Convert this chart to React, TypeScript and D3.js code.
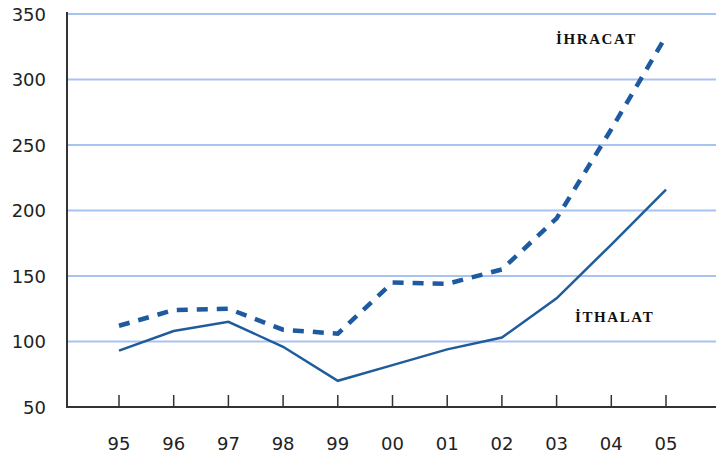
import React from "react";
import * as d3 from "d3";

const WIDTH = 716;
const HEIGHT = 459;

const years = ["95", "96", "97", "98", "99", "00", "01", "02", "03", "04", "05"];
const ihracat = [112, 124, 125, 109, 106, 145, 144, 155, 194, 262, 333];
const ithalat = [93, 108, 115, 96, 70, 82, 94, 103, 133, 174, 216];
const yTicks = [50, 100, 150, 200, 250, 300, 350];

const AXIS_LEFT = 67;
const AXIS_BOTTOM = 407;
const TOP = 14;

export default function App() {
    const x = d3.scalePoint<string>().domain(years).range([119, 666]);
    const y = d3.scaleLinear().domain([50, 350]).range([AXIS_BOTTOM, TOP]);

    const line = d3.line<number>()
        .x((_, i) => x(years[i]) as number)
        .y(d => y(d));

    return (
        <svg width={WIDTH} height={HEIGHT} style={{position: "absolute", left: 0, top: 0, background: "#fff"}}>
            {/* gridlines */}
            {yTicks.filter(t => t > 50).map(t =>
                <line key={t} x1={AXIS_LEFT} x2={WIDTH} y1={y(t)} y2={y(t)} stroke="#a8c2f2" strokeWidth={2}/>
            )}
            {/* y labels */}
            {yTicks.map(t =>
                <text key={t} x={46} y={y(t) + 6.5} textAnchor="end" fontFamily="DejaVu Sans" fontSize={18}
                      fill="#222">{t}</text>
            )}
            {/* x ticks & labels */}
            {years.map(yr =>
                <g key={yr}>
                    <line x1={x(yr)} x2={x(yr)} y1={AXIS_BOTTOM - 12} y2={AXIS_BOTTOM} stroke="#333" strokeWidth={1.5}/>
                    <text x={x(yr)} y={450} textAnchor="middle" fontFamily="DejaVu Sans" fontSize={18}
                          fill="#222">{yr}</text>
                </g>
            )}
            {/* axes */}
            <line x1={AXIS_LEFT} x2={AXIS_LEFT} y1={TOP - 2} y2={AXIS_BOTTOM + 1} stroke="#333" strokeWidth={2}/>
            <line x1={AXIS_LEFT} x2={WIDTH} y1={AXIS_BOTTOM} y2={AXIS_BOTTOM} stroke="#333" strokeWidth={2}/>

            <path d={line(ihracat) || ""} fill="none" stroke="#1d5aa0" strokeWidth={4.5} strokeDasharray="11 9"/>
            <path d={line(ithalat) || ""} fill="none" stroke="#1f5c9c" strokeWidth={2.5}/>

            <text x={556} y={44} fontFamily="Liberation Serif" fontWeight="bold" fontSize={15} letterSpacing={1.6}
                  fill="#111">İHRACAT</text>
            <text x={575} y={322} fontFamily="Liberation Serif" fontWeight="bold" fontSize={15} letterSpacing={1.6}
                  fill="#111">İTHALAT</text>
        </svg>
    );
}
